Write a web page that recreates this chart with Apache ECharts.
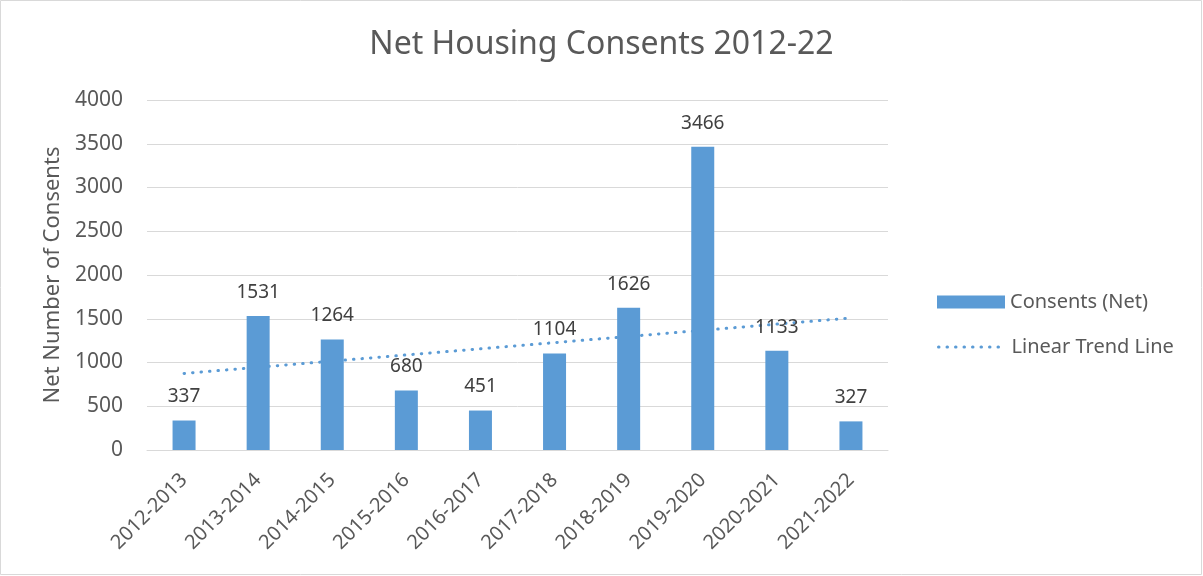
<!DOCTYPE html>
<html>
<head>
<meta charset="utf-8">
<script src="https://cdn.jsdelivr.net/npm/echarts@6/dist/echarts.min.js"></script>
<style>
html, body { margin: 0; padding: 0; background: #fff; }
#chart {
  width: 1203px;
  height: 576px;
}
</style>
</head>
<body>
<div id="chart"></div>
<script>
// data
const years = ['2012-2013', '2013-2014', '2014-2015', '2015-2016', '2016-2017',
  '2017-2018', '2018-2019', '2019-2020', '2020-2021', '2021-2022']
const consents = [337, 1531, 1264, 680, 451, 1104, 1626, 3466, 1133, 327]
// trend line end points (first and last category)
const trendStart = 875
const trendEnd = 1509
const yTicks = { min: 0, max: 4000, interval: 500 }

const textColor = '#595959'
const barColor = '#5B9BD5'
const font = 'Noto Sans'
const dotted = [0.5, 8]

const chart = echarts.init(document.getElementById('chart'))
chart.setOption({
  animation: false,
  textStyle: { fontFamily: font },
  title: {
    text: 'Net Housing Consents 2012-22',
    left: 'center',
    top: 24,
    textStyle: { color: textColor, fontSize: 32, fontWeight: 'normal', fontFamily: font }
  },
  graphic: [{
    type: 'rect',
    shape: { x: 0.5, y: 0.5, width: 1201, height: 574 },
    style: { fill: 'none', stroke: '#d9d9d9', lineWidth: 1 },
    silent: true
  }],
  legend: [
    {
      data: [{ name: 'Consents (Net)', icon: 'rect' }],
      left: 932,
      top: 287,
      itemWidth: 68,
      itemHeight: 13,
      itemGap: 6,
      textStyle: { color: textColor, fontSize: 20, fontFamily: font }
    },
    {
      data: ['Linear Trend Line'],
      left: 932,
      top: 332,
      itemWidth: 68,
      itemHeight: 13,
      itemGap: 6,
      itemStyle: { opacity: 0 },
      lineStyle: { color: barColor, width: 3, type: dotted, cap: 'round' },
      textStyle: { color: textColor, fontSize: 20, fontFamily: font }
    }
  ],
  grid: { left: 147, right: 315, top: 100, bottom: 126 },
  xAxis: {
    type: 'category',
    data: years,
    axisLine: { lineStyle: { color: '#d9d9d9', width: 1 } },
    axisTick: { show: false },
    axisLabel: { rotate: 45, color: textColor, fontSize: 20, margin: 27, fontFamily: font }
  },
  yAxis: {
    type: 'value',
    min: yTicks.min,
    max: yTicks.max,
    interval: yTicks.interval,
    name: 'Net Number of Consents',
    nameLocation: 'middle',
    nameGap: 81,
    nameTextStyle: { color: textColor, fontSize: 22, fontFamily: font },
    axisLine: { show: false },
    axisTick: { show: false },
    axisLabel: { color: textColor, fontSize: 21, margin: 24, fontFamily: font, formatter: v => String(v) },
    splitLine: { lineStyle: { color: '#d9d9d9', width: 1 } }
  },
  series: [
    {
      name: 'Linear Trend Line',
      type: 'line',
      z: 1,
      symbol: 'none',
      data: [[0, trendStart], [years.length - 1, trendEnd]],
      lineStyle: { color: barColor, width: 3, type: dotted, cap: 'round' },
      itemStyle: { color: barColor }
    },
    {
      name: 'Consents (Net)',
      type: 'bar',
      z: 2,
      data: consents,
      barWidth: 23,
      itemStyle: { color: barColor },
      label: {
        show: true,
        position: 'top',
        distance: 14,
        color: '#404040',
        fontSize: 19,
        fontFamily: font
      }
    }
  ]
})
</script>
</body>
</html>
